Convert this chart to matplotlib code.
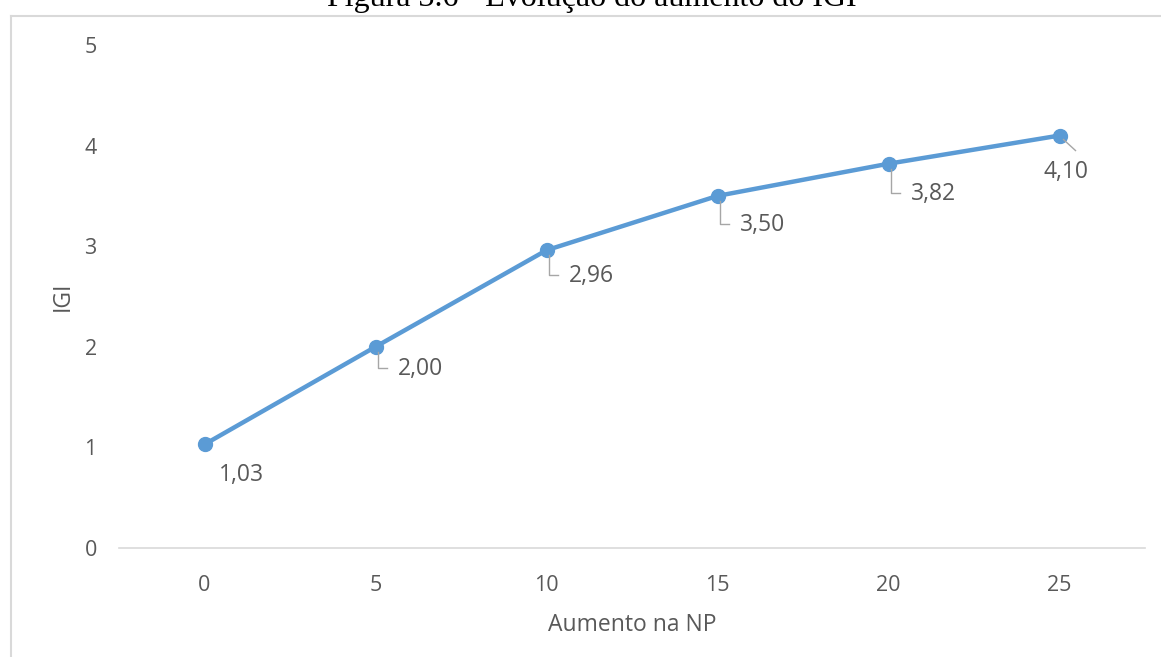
import matplotlib.pyplot as plt
from matplotlib.lines import Line2D

# data
aumento_np = [0, 5, 10, 15, 20, 25]
igi = [1.03, 2.00, 2.96, 3.50, 3.82, 4.10]
labels = ['1,03', '2,00', '2,96', '3,50', '3,82', '4,10']

plt.rcParams['font.family'] = ['Open Sans', 'DejaVu Sans']
gray = '#595959'
blue = '#5B9BD5'

W, H = 1161, 657
fig = plt.figure(figsize=(W / 100, H / 100), dpi=100)
ax = fig.add_axes([119 / W, 1 - 548 / H, (1145 - 119) / W, (548 - 45) / H])

ax.plot(aumento_np, igi, color=blue, lw=3.2, marker='o', ms=10,
        solid_capstyle='round', zorder=3)

ax.set_xlim(-2.5, 27.5)
ax.set_ylim(0, 5)
ax.set_xticks(aumento_np)
ax.set_yticks(range(6))
for s in ['top', 'right', 'left']:
    ax.spines[s].set_visible(False)
ax.spines['bottom'].set_color('#D9D9D9')
ax.spines['bottom'].set_linewidth(1.2)
ax.tick_params(length=0, labelcolor=gray)
ax.tick_params(axis='x', pad=19.5)
ax.tick_params(axis='y', pad=16)
plt.setp(ax.get_xticklabels() + ax.get_yticklabels(), fontsize=15.5)
ax.set_xlabel('Aumento na NP', fontsize=16.5, color=gray, labelpad=12)
ax.set_ylabel('IGI', fontsize=16.5, color=gray, labelpad=7)

# data labels with leader lines (offsets in pixels, y downward)
offsets = [(None, 14, 31), ('L', 22, 22), ('L', 22, 26), ('L', 22, 29),
           ('L', 22, 30), ('D', -16, 36)]
for x, y, lab, (kind, dx, dy) in zip(aumento_np, igi, labels, offsets):
    px, py = ax.transData.transform((x, y))
    if kind == 'L':
        fig.add_artist(Line2D([px + 2, px + 2, px + 11],
                              [py - 5, py - dy + 1, py - dy + 1],
                              transform=None, color='#A6A6A6', lw=1))
    elif kind == 'D':
        fig.add_artist(Line2D([px + 4, px + 16], [py - 4, py - 15],
                              transform=None, color='#A6A6A6', lw=1))
    ax.annotate(lab, (x, y), xytext=(dx, -dy), textcoords='offset pixels',
                ha='left', va='center', fontsize=16.5, color=gray)

# frame lines of the page box
fig.add_artist(Line2D([11 / W, 1], [1 - 16 / H, 1 - 16 / H],
                      transform=fig.transFigure, color='#D9D9D9', lw=1.5))
fig.add_artist(Line2D([11 / W, 11 / W], [0, 1 - 16 / H],
                      transform=fig.transFigure, color='#D9D9D9', lw=1.5))

# caption cut off at the top
fig.text(592 / W, 1 - 6 / H, 'Figura 3.6 - Evolução do aumento do IGI',
         family='Liberation Serif', fontsize=23, ha='center',
         va='baseline', color='black')

fig.savefig('out.png', dpi=100)
